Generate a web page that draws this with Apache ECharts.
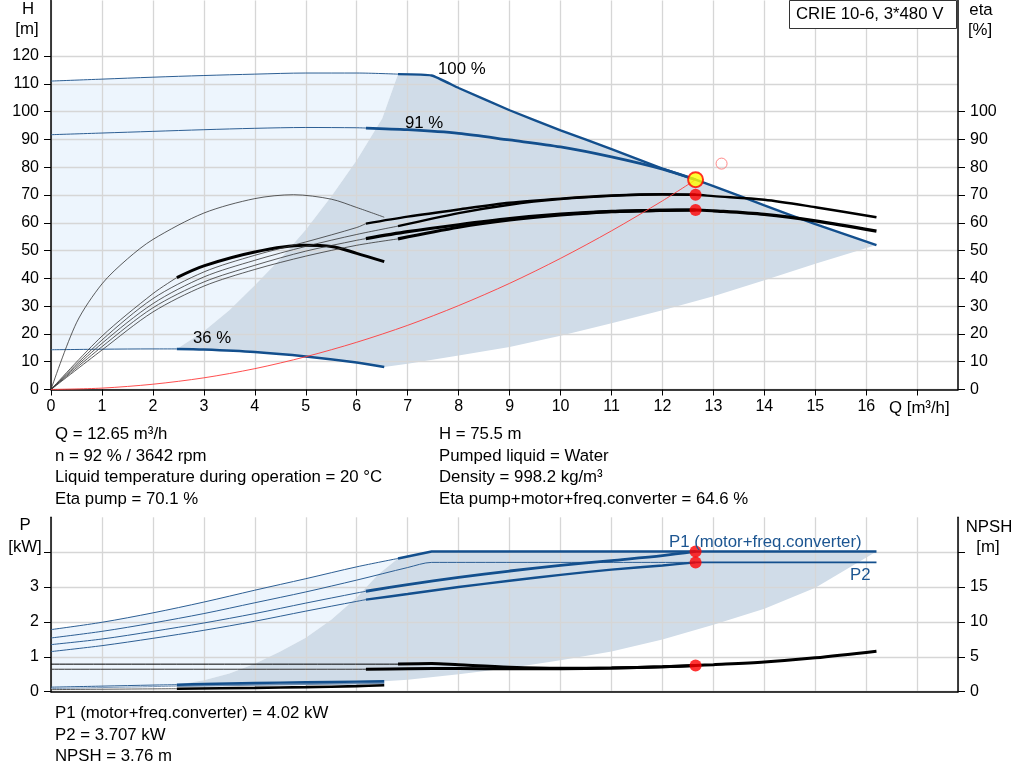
<!DOCTYPE html>
<html><head><meta charset="utf-8">
<script src="https://cdn.jsdelivr.net/npm/echarts@6/dist/echarts.min.js"></script>
<style>html,body{margin:0;padding:0;background:#fff}#c{width:1024px;height:781px}</style>
</head><body><div id="c"></div>
<script>
// ---------- tick labels ----------
const qLabels = [0,1,2,3,4,5,6,7,8,9,10,11,12,13,14,15,16];
const qTicks = [0,1,2,3,4,5,6,7,8,9,10,11,12,13,14,15,16,17];
const hLabels = [0,10,20,30,40,50,60,70,80,90,100,110,120];
const etaLabels = [0,10,20,30,40,50,60,70,80,90,100];
const pLabels = [0,1,2,3];
const pTicks = [0,1,2,3,4];
const npshLabels = [0,5,10,15];
const npshTicks = [0,5,10,15,20];

// ---------- top chart: head curves [Q, H] ----------
const h100Thin = [[0,111],[1,111.7],[2,112.4],[3,113],[4,113.5],[5,113.9],[6,113.9],[6.81,113.5]];
const h100Thick = [[6.81,113.5],[7.47,113],[8,108.5],[9,100.5],[10,93.3],[11,86.5],[12,79.5],[12.65,75.5],[13,73.2],[14,66.3],[15,59.5],[16.2,52]];
const h91Thin = [[0,91.7],[1,92.3],[2,92.9],[3,93.5],[4,94],[5,94.3],[6,94.2],[6.18,94.1]];
const h91Thick = [[6.18,94.1],[7,93.5],[8,92.2],[9,89.8],[10,87.3],[11,83.7],[12,79.3],[12.65,75.5]];
const h36Thin = [[0,14.3],[1,14.5],[2,14.6],[2.47,14.6]];
const h36Thick = [[2.47,14.6],[3,14.4],[4,13.5],[5,11.9],[6,9.7],[6.54,8.1]];
const darkLeftTop = [[2.47,14.6],[3,21],[3.5,28.5],[4,37.5],[4.5,47],[5,57.5],[5.5,69.5],[6,82.5],[6.5,97.5],[6.81,113.5]];
const darkBottomTop = [[6.54,8.1],[7,9.3],[8,12.2],[9,15.3],[10,19.3],[11,23.8],[12,28.5],[13,33.6],[14,39.3],[15,45.3],[16.2,52]];
const systemCurve = [[0,0],[1,0.5],[2,1.9],[3,4.2],[4,7.5],[5,11.8],[6,17],[7,23.1],[8,30.2],[9,38.2],[10,47.2],[11,57.1],[12,67.9],[12.65,75.5]];

// ---------- top chart: efficiency curves [Q, eta] ----------
const eta36Pump = [[0,0],[0.5,24],[1,38],[1.5,47],[2,54],[3,63.5],[4,68.7],[4.76,70.1],[5.5,68.5],[6,65.5],[6.54,62]];
const eta36TotThin = [[0,0],[1,19.2],[2,34.5],[2.47,40.3]];
const eta36TotThick = [[2.47,40.3],[3,44.5],[4,49.5],[4.95,51.9],[5.5,51.5],[6,49],[6.54,46]];
const eta91PumpThin = [[0,0],[1,17.8],[2,32.7],[3,42.3],[4,48.3],[5,53.1],[6,58.3],[6.18,59.7]];
const eta91PumpThick = [[6.18,59.7],[7,62.2],[8,64.8],[9,67.2],[10,68.7],[11,69.8],[12,70.3],[12.65,70.1]];
const eta100PumpThin = [[0,0],[1,16.6],[2,30.9],[3,40.5],[4,46.5],[5,51.5],[6,55.8],[6.81,58.8]];
const eta100PumpThick = [[6.81,58.8],[8,63.5],[9,66.5],[10,68.5],[11,69.7],[12,70.2],[12.65,70.1],[13,69.6],[14,68.3],[15,65.6],[16.2,62]];
const eta91TotThin = [[0,0],[1,15.4],[2,29.4],[3,38.7],[4,44.7],[5,49.8],[6,53.7],[6.18,54.3]];
const eta91TotThick = [[6.18,54.3],[7,56.8],[8,59.3],[9,61.5],[10,63.1],[11,64.1],[12,64.5],[12.65,64.6]];
const eta100TotThin = [[0,0],[1,14.2],[2,27.9],[3,37.2],[4,43.2],[5,48],[6,51.9],[6.81,54.2]];
const eta100TotThick = [[6.81,54.2],[8,58.4],[9,61],[10,62.8],[11,64],[12,64.5],[12.65,64.6],[13,64.3],[14,63],[15,60.7],[16.2,57]];

// ---------- duty point ----------
const dutyQ = 12.65, dutyH = 75.5, dutyEtaPump = 70.1, dutyEtaTot = 64.6;
const dutyP1 = 4.02, dutyP2 = 3.707, dutyNPSH = 3.76;
const requestedPoint = [13.16, 81.3];

// ---------- bottom chart: power [Q, P kW] ----------
const p1_100Thin = [[0,1.78],[1,1.99],[2,2.26],[3,2.57],[4,2.91],[5,3.24],[6,3.58],[6.81,3.82]];
const p1_100Thick = [[6.81,3.82],[7.47,4.02],[10,4.02],[12.65,4.02],[16.2,4.02]];
const p2_100Thin = [[0,1.54],[1,1.73],[2,1.97],[3,2.24],[4,2.55],[5,2.86],[6,3.2],[7,3.56],[7.47,3.707],[12.65,3.707]];
const p2_100Right = [[12.65,3.707],[16.2,3.707]];
const p1_91Thin = [[0,1.35],[1,1.51],[2,1.73],[3,1.97],[4,2.24],[5,2.54],[6,2.83],[6.18,2.88]];
const p1_91Thick = [[6.18,2.88],[7,3.07],[8,3.28],[9,3.46],[10,3.62],[11,3.76],[12,3.9],[12.65,4.02]];
const p2_91Thin = [[0,1.15],[1,1.32],[2,1.53],[3,1.76],[4,2.02],[5,2.31],[6,2.59],[6.18,2.64]];
const p2_91Thick = [[6.18,2.64],[7,2.8],[8,3.0],[9,3.18],[10,3.35],[11,3.5],[12,3.62],[12.65,3.707]];
const p1_36Thin = [[0,0.13],[1,0.16],[2,0.19],[2.47,0.2]];
const p1_36Thick = [[2.47,0.2],[3,0.22],[4,0.25],[5,0.27],[6,0.29],[6.54,0.3]];
const p2_36Thin = [[0,0.09],[2.47,0.16]];
const p2_36Thick = [[2.47,0.16],[4,0.2],[6.54,0.25]];
const darkLeftBot = [[2.47,0.2],[3,0.33],[3.5,0.52],[4,0.8],[4.5,1.15],[5,1.55],[5.5,2.06],[6,2.7],[6.42,3.36],[6.81,3.82]];
const darkBottomBot = [[6.54,0.3],[7,0.34],[8,0.5],[9,0.68],[10,0.9],[11,1.15],[12,1.5],[13,1.92],[14,2.38],[15,2.98],[16.2,4.02]];

// ---------- bottom chart: NPSH [Q, m] ----------
const npsh36Thin = [[0,0.3],[2.47,0.43]];
const npsh36Thick = [[2.47,0.43],[4,0.55],[5,0.65],[6,0.8],[6.54,0.92]];
const npsh91Thin = [[0,3.22],[6.18,3.22]];
const npsh91Thick = [[6.18,3.22],[7,3.3],[8,3.32],[9,3.28],[10,3.3],[11,3.4],[12,3.57],[12.65,3.76]];
const npsh100Thin = [[0,3.95],[6.81,3.95]];
const npsh100Thick = [[6.81,3.97],[7.47,4.05],[8,3.85],[9,3.5],[10,3.35],[11,3.4],[12,3.57],[12.65,3.76],[13,3.87],[14,4.25],[15,4.85],[16.2,5.8]];

// ---------- texts ----------
const infoLeft = ['Q = 12.65 m³/h','n = 92 % / 3642 rpm','Liquid temperature during operation = 20 °C','Eta pump = 70.1 %'];
const infoRight = ['H = 75.5 m','Pumped liquid = Water','Density = 998.2 kg/m³','Eta pump+motor+freq.converter = 64.6 %'];
const infoBottom = ['P1 (motor+freq.converter) = 4.02 kW','P2 = 3.707 kW','NPSH = 3.76 m'];

const FONT = 'Arial, "Liberation Sans", sans-serif';
const F = '16.8px ' + FONT;
const BLUE = '#134f8d', THINBLUE = '#2d5f94', LIGHT = '#edf5fd', DARK = '#d0dce8';

function rev(a){ return a.slice().reverse(); }
function poly(xi, yi, pts, color){
  return {type:'custom', xAxisIndex:xi, yAxisIndex:yi, z:0, silent:true, data:[[0,0]],
    renderItem:function(params, api){
      return {type:'polygon', shape:{points:pts.map(function(d){return api.coord(d);})}, style:{fill:color}};
    }};
}
function line(data, xi, yi, color, width, smooth){
  return {type:'line', data:data, xAxisIndex:xi, yAxisIndex:yi, showSymbol:false, symbol:'none',
    smooth: smooth===undefined?0.3:smooth, silent:true, z:3,
    lineStyle:{color:color, width:width}};
}
function dot(xi, yi, pts, size, style, z){
  return {type:'scatter', xAxisIndex:xi, yAxisIndex:yi, data:pts, symbol:'circle', symbolSize:size, itemStyle:style, silent:true, z:z||5};
}
function txt(x, y, t, opts){
  return {type:'text', z:51, x:x, y:y, style:Object.assign({text:t, font:F, fill:'#000', verticalAlign:'middle'}, opts||{})};
}

const lightTop = h100Thin.concat(rev(darkLeftTop), rev(h36Thin));
const darkTop = darkLeftTop.concat(h100Thick, rev(darkBottomTop), rev(h36Thick));
const lightBot = p1_100Thin.concat(rev(darkLeftBot), rev(p1_36Thin));
const darkBot = darkLeftBot.concat(p1_100Thick, rev(darkBottomBot), rev(p1_36Thick));

const axisLbl = {color:'#000', fontFamily:FONT, fontSize:16};
const split = {show:true, lineStyle:{color:'#d6d6d6', width:1.3}};
const axLine = {show:true, lineStyle:{color:'#000', width:1.5}};

const chart = echarts.init(document.getElementById('c'), null, {renderer:'canvas'});
chart.setOption({
  animation:false,
  backgroundColor:'#fff',
  grid:[{left:51, right:66, top:0.5, height:389, containLabel:false},
        {left:51, right:66, top:517.3, height:174.4, containLabel:false}],
  xAxis:[
    {gridIndex:0, type:'value', min:0, max:17.8, interval:1, z:1,
     axisLine:axLine, axisTick:{show:true, length:6, customValues:qTicks, lineStyle:{color:'#000'}},
     axisLabel:Object.assign({margin:9, customValues:qLabels}, axisLbl), splitLine:split},
    {gridIndex:1, type:'value', min:0, max:17.8, interval:1, z:1,
     axisLine:axLine, axisTick:{show:false}, axisLabel:{show:false}, splitLine:split}
  ],
  yAxis:[
    {gridIndex:0, type:'value', min:0, max:140, interval:10, z:1, position:'left',
     axisLine:axLine, axisTick:{show:true, length:7, customValues:hLabels, lineStyle:{color:'#000'}},
     axisLabel:Object.assign({margin:12, customValues:hLabels}, axisLbl), splitLine:split},
    {gridIndex:0, type:'value', min:0, max:140, interval:10, z:1, position:'right',
     axisLine:axLine, axisTick:{show:true, length:7, customValues:etaLabels, lineStyle:{color:'#000'}},
     axisLabel:Object.assign({margin:12, customValues:etaLabels}, axisLbl), splitLine:{show:false}},
    {gridIndex:1, type:'value', min:0, max:5, interval:1, z:1, position:'left',
     axisLine:axLine, axisTick:{show:true, length:7, customValues:pTicks, lineStyle:{color:'#000'}},
     axisLabel:Object.assign({margin:12, customValues:pLabels}, axisLbl), splitLine:split},
    {gridIndex:1, type:'value', min:0, max:25, interval:5, z:1, position:'right',
     axisLine:axLine, axisTick:{show:true, length:7, customValues:npshTicks, lineStyle:{color:'#000'}},
     axisLabel:Object.assign({margin:12, customValues:npshLabels}, axisLbl), splitLine:{show:false}}
  ],
  series:[
    poly(0,0,lightTop,LIGHT), poly(0,0,darkTop,DARK),
    poly(1,2,lightBot,LIGHT), poly(1,2,darkBot,DARK),
    // head curves
    line(h100Thin,0,0,THINBLUE,1), line(h100Thick,0,0,BLUE,2.4,0.15),
    line(h91Thin,0,0,THINBLUE,1), line(h91Thick,0,0,BLUE,2.8),
    line(h36Thin,0,0,THINBLUE,1), line(h36Thick,0,0,BLUE,2.4),
    // efficiency curves
    line(eta36Pump,0,1,'#333',0.8),
    line(eta36TotThin,0,1,'#333',0.8), line(eta36TotThick,0,1,'#000',3),
    line(eta91PumpThin,0,1,'#333',0.8), line(eta91PumpThick,0,1,'#000',2.4),
    line(eta100PumpThin,0,1,'#333',0.8), line(eta100PumpThick,0,1,'#000',2.4),
    line(eta91TotThin,0,1,'#333',0.8), line(eta91TotThick,0,1,'#000',3.2),
    line(eta100TotThin,0,1,'#333',0.8), line(eta100TotThick,0,1,'#000',3.2),
    line(systemCurve,0,0,'#ff3b3b',0.9),
    dot(0,0,[[dutyQ,dutyH]],15,{color:'#ffff00', borderColor:'#ff0000', borderWidth:2},6),
    dot(0,1,[[dutyQ,dutyEtaPump],[dutyQ,dutyEtaTot]],12,{color:'#ff0000'}),
    dot(0,0,[requestedPoint],11,{color:'rgba(255,255,255,0)', borderColor:'#ff6b6b', borderWidth:1}),
    // power curves
    line(p1_100Thin,1,2,THINBLUE,1), line(p1_100Thick,1,2,BLUE,2.6,0),
    line(p2_100Thin,1,2,THINBLUE,1), line(p2_100Right,1,2,BLUE,1.8,0),
    line(p1_91Thin,1,2,THINBLUE,1), line(p1_91Thick,1,2,BLUE,2.8),
    line(p2_91Thin,1,2,THINBLUE,1), line(p2_91Thick,1,2,BLUE,2.4),
    line(p2_36Thin,1,2,'#7e9bbb',1), line(p2_36Thick,1,2,'#6f8fb3',2),
    line(p1_36Thin,1,2,THINBLUE,1), line(p1_36Thick,1,2,BLUE,2.4),
    // NPSH curves
    line(npsh36Thin,1,3,'#333',0.8), line(npsh36Thick,1,3,'#000',2.6),
    line(npsh91Thin,1,3,'#333',1), line(npsh91Thick,1,3,'#000',3),
    line(npsh100Thin,1,3,'#000',1), line(npsh100Thick,1,3,'#000',3),
    dot(1,2,[[dutyQ,dutyP1],[dutyQ,dutyP2]],12,{color:'#ff0000'}),
    dot(1,3,[[dutyQ,dutyNPSH]],12,{color:'#ff0000'})
  ],
  graphic:[
    {type:'rect', z:50, shape:{x:789.5, y:0.5, width:167, height:28}, style:{fill:'#fff', stroke:'#333', lineWidth:1}},
    txt(796, 14.5, 'CRIE 10-6, 3*480 V'),
    txt(28, 9, 'H', {align:'center'}),
    txt(27, 29.5, '[m]', {align:'center'}),
    txt(981, 10, 'eta', {align:'center'}),
    txt(980, 30.5, '[%]', {align:'center'}),
    txt(889, 408.5, 'Q [m³/h]'),
    txt(438, 69.5, '100 %'),
    txt(405, 123, '91 %'),
    txt(193, 338, '36 %'),
    txt(25, 525, 'P', {align:'center'}),
    txt(25, 547, '[kW]', {align:'center'}),
    txt(989, 527, 'NPSH', {align:'center'}),
    txt(988, 547.5, '[m]', {align:'center'}),
    txt(669, 542, 'P1 (motor+freq.converter)', {fill:'#1c5591'}),
    txt(850, 575, 'P2', {fill:'#1c5591'})
  ].concat(
    infoLeft.map(function(t,i){return txt(55, 434.5+21.5*i, t);}),
    infoRight.map(function(t,i){return txt(439, 434.5+21.5*i, t);}),
    infoBottom.map(function(t,i){return txt(55, 713.5+21.6*i, t);})
  )
});
</script></body></html>
